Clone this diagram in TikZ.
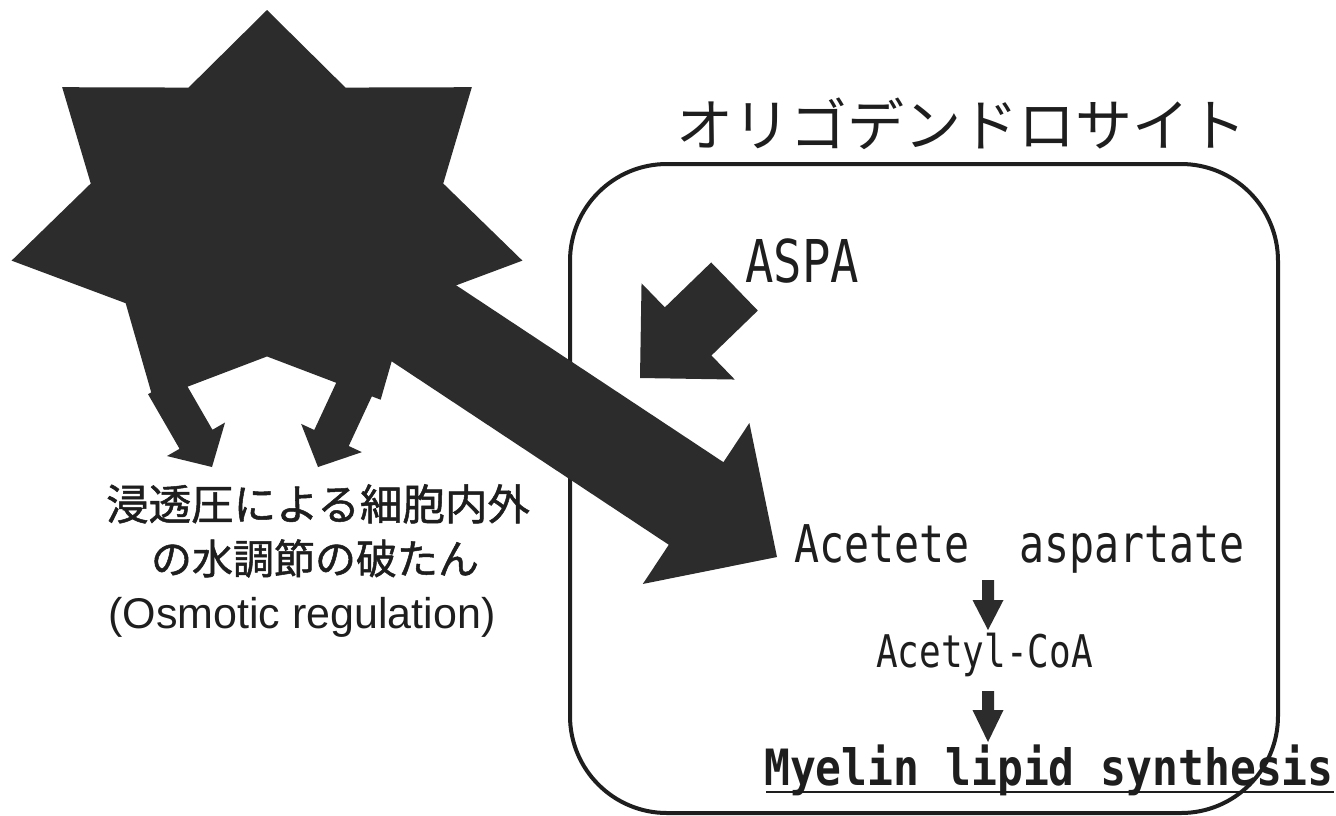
\documentclass[tikz,border=0pt]{standalone}
\usepackage{fontspec}
\usetikzlibrary{calc}
\newfontfamily\jpfont{Noto Sans CJK JP}
\newfontfamily\jpboldfont[FakeBold=1.2]{Noto Sans CJK JP}
\newfontfamily\monofont[FakeStretch=0.8]{DejaVu Sans Mono}
\newfontfamily\monobfont[FakeStretch=0.86]{DejaVu Sans Mono}
\newfontfamily\arialfont{Liberation Sans}
\definecolor{darkfill}{HTML}{2C2C2C}
\definecolor{inkcol}{HTML}{1E1E1E}
\tikzset{
  blockfill/.style={fill=darkfill},
  cellbox/.style={draw=inkcol, line width=4pt, rounded corners=97pt},
  txt/.style={inner sep=0pt, text=inkcol},
}
\newcommand\blockarrow[5]{%
  \coordinate (ba) at ($(#2)!#5!(#1)$);
  \fill[blockfill] ($(#1)!#3!90:(#2)$) -- ($(ba)!#3!90:(#2)$) -- ($(ba)!#4!90:(#2)$) -- (#2)
    -- ($(ba)!#4!-90:(#2)$) -- ($(ba)!#3!-90:(#2)$) -- ($(#1)!#3!-90:(#2)$) -- cycle;
}
\begin{document}
\begin{tikzpicture}[x=1pt,y=-1pt]
\useasboundingbox (0,0) rectangle (1336,815);
\fill[white] (0,0) rectangle (1336,815);

% oligodendrocyte box
\draw[cellbox] (570,164) rectangle (1278,813);

% seven-pointed star
\coordinate (star) at (267,215);
\fill[blockfill] plot[samples at={0,...,13}]
  ({267+262*(0.845+0.155*cos(180*\x))*cos(90+\x*360/14)},
   {215-205*(0.845+0.155*cos(180*\x))*sin(90+\x*360/14)}) -- cycle;

% big arrow from star into the cell
\coordinate (bigS) at (360,281);
\coordinate (bigT) at (777,557);
\blockarrow{bigS}{bigT}{49.5pt}{96.5pt}{97pt}

% two downward arrows
\coordinate (lS) at (164.5,384.7);
\coordinate (lT) at (212,467);
\blockarrow{lS}{lT}{19pt}{33.5pt}{32pt}
\coordinate (rS) at (358,381);
\coordinate (rT) at (318,467);
\blockarrow{rS}{rT}{19pt}{33.5pt}{32pt}

% ASPA arrow
\coordinate (aS) at (734.5,286.5);
\coordinate (aT) at (640,378);
\blockarrow{aS}{aT}{33.5pt}{67pt}{67pt}

% texts
\node[txt, anchor=base, font=\jpfont\fontsize{57}{60}\selectfont] (title) at (961,146) {オリゴデンドロサイト};
\node[txt, anchor=base west, font=\monofont\fontsize{59}{60}\selectfont] (aspa) at (745,282) {ASPA};
\node[txt, anchor=base west, font=\monofont\fontsize{52}{60}\selectfont] (aa) at (794,562) {Acetete\ \ aspartate};
\node[txt, anchor=base west, font=\monofont\fontsize{45}{50}\selectfont] (acoa) at (876,667) {Acetyl-CoA};
\node[txt, anchor=base west, font=\monobfont\bfseries\fontsize{50}{55}\selectfont] (myelin) at (764,785) {Myelin lipid synthesis};
\draw[inkcol, line width=2.5pt] ($(myelin.base west)+(2,7)$) -- ($(myelin.base east)+(0,7)$);

\node[txt, anchor=base, font=\jpboldfont\fontsize{42.5}{48}\selectfont] (l1) at (318,520) {浸透圧による細胞内外};
\node[txt, anchor=base, font=\jpboldfont\fontsize{41}{48}\selectfont] (l2) at (315,574) {の水調節の破たん};
\node[txt, anchor=base, font=\arialfont\fontsize{43}{48}\selectfont] (l3) at (302,628) {(Osmotic regulation)};

% small pathway arrows
\coordinate (s1) at (988,580);
\coordinate (t1) at (988,630);
\blockarrow{s1}{t1}{6pt}{15.5pt}{30pt}
\coordinate (s2) at (988,691);
\coordinate (t2) at (988,742);
\blockarrow{s2}{t2}{6pt}{15.5pt}{32pt}
\end{tikzpicture}
\end{document}
